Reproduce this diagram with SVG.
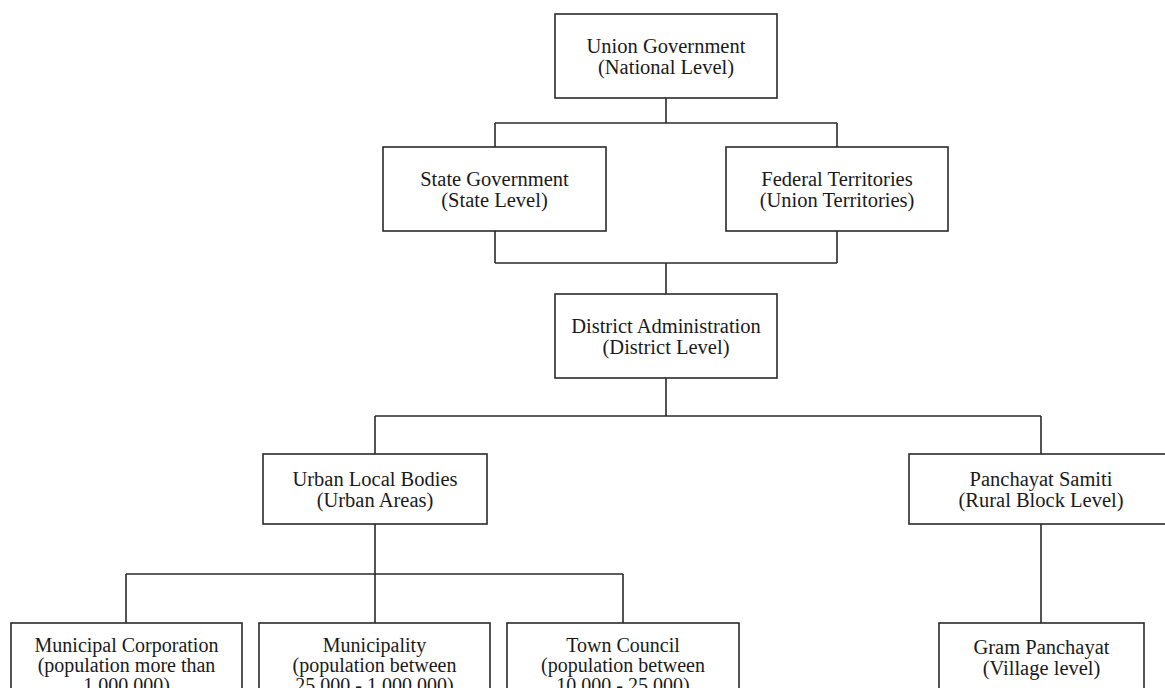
<svg xmlns="http://www.w3.org/2000/svg" width="1165" height="688" viewBox="0 0 1165 688">
<style>
.box{fill:#fff;stroke:#2a2a2a;stroke-width:1.6}
.con{fill:none;stroke:#2a2a2a;stroke-width:1.6}
text{font-family:"Liberation Serif","Times New Roman",serif;font-size:20.5px;fill:#1a1a1a;text-anchor:middle}
text.sm{font-size:20px}
</style>
<rect width="1165" height="688" fill="#fff"/>
<g id="connectors">
<path class="con" d="M666 98V123M495 123H837M495 123V147M837 123V147"/>
<path class="con" d="M495 231V263M837 231V263M495 263H837M666 263V294"/>
<path class="con" d="M666 378V416M375 416H1041M375 416V454M1041 416V454"/>
<path class="con" d="M375 524V574M126 574H623M126 574V623M375 574V623M623 574V623"/>
<path class="con" d="M1041 524V623"/>
</g>
<g id="union">
<rect class="box" x="555" y="14" width="222" height="84"/>
<text x="666" y="53">Union Government</text>
<text x="666" y="74">(National Level)</text>
</g>
<g id="state">
<rect class="box" x="383" y="147" width="223" height="84"/>
<text x="494.5" y="186">State Government</text>
<text x="494.5" y="207">(State Level)</text>
</g>
<g id="federal">
<rect class="box" x="726" y="147" width="222" height="84"/>
<text x="837" y="186">Federal Territories</text>
<text x="837" y="207">(Union Territories)</text>
</g>
<g id="district">
<rect class="box" x="555" y="294" width="222" height="84"/>
<text x="666" y="333">District Administration</text>
<text x="666" y="354">(District Level)</text>
</g>
<g id="urban">
<rect class="box" x="263" y="454" width="224" height="70"/>
<text x="375" y="486">Urban Local Bodies</text>
<text x="375" y="507">(Urban Areas)</text>
</g>
<g id="panchayat-samiti">
<rect class="box" x="909" y="454" width="264" height="70"/>
<text x="1041" y="486">Panchayat Samiti</text>
<text x="1041" y="507">(Rural Block Level)</text>
</g>
<g id="municipal-corporation">
<rect class="box" x="11" y="623" width="231" height="90"/>
<text class="sm" x="126.5" y="652">Municipal Corporation</text>
<text class="sm" x="126.5" y="672">(population more than</text>
<text class="sm" x="126.5" y="692">1,000,000)</text>
</g>
<g id="municipality">
<rect class="box" x="259" y="623" width="231" height="90"/>
<text class="sm" x="374.5" y="652">Municipality</text>
<text class="sm" x="374.5" y="672">(population between</text>
<text class="sm" x="374.5" y="692">25,000 - 1,000,000)</text>
</g>
<g id="town-council">
<rect class="box" x="507" y="623" width="232" height="90"/>
<text class="sm" x="623" y="652">Town Council</text>
<text class="sm" x="623" y="672">(population between</text>
<text class="sm" x="623" y="692">10,000 - 25,000)</text>
</g>
<g id="gram-panchayat">
<rect class="box" x="939" y="623" width="205" height="90"/>
<text x="1041.5" y="654">Gram Panchayat</text>
<text x="1041.5" y="675">(Village level)</text>
</g>
</svg>
